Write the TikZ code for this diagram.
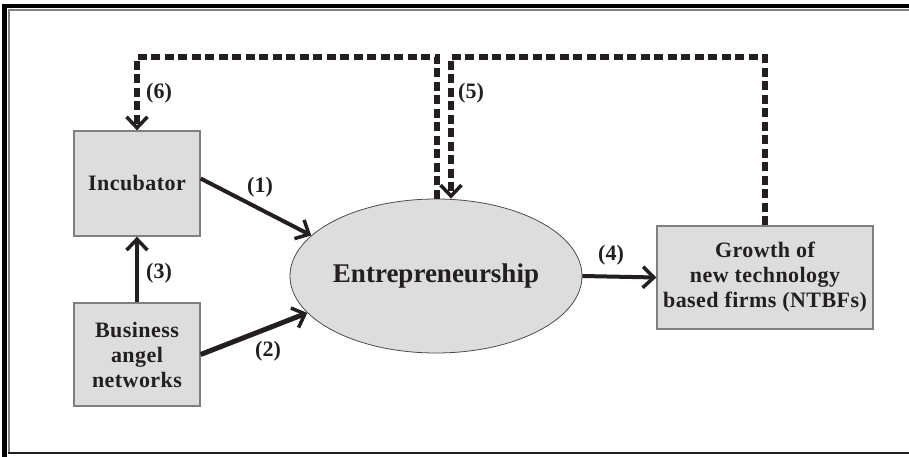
\documentclass[tikz,border=0pt]{standalone}
\usepackage{fontspec}
\setmainfont{Liberation Serif}
\newfontfamily\trackfont{Liberation Serif}[LetterSpace=2]
\usetikzlibrary{shapes.geometric,arrows.meta}
\definecolor{boxgray}{HTML}{DDDDDD}
\definecolor{edgegray}{HTML}{7F7F7F}
\definecolor{ink}{HTML}{231F20}
\begin{document}
\begin{tikzpicture}[x=1pt,y=-1pt,
    box/.style={draw=edgegray, line width=1.3pt, fill=boxgray, text=ink,
      align=center, inner sep=0pt,
      font=\trackfont\bfseries\fontsize{22}{25}\selectfont},
    num/.style={text=ink, inner sep=0pt, font=\bfseries\fontsize{22}{24}\selectfont},
    arr/.style={draw=ink, line width=4pt,
      -{Straight Barb[length=11pt,width=21pt,line width=3.5pt]}},
    fback/.style={arr, line width=5.5pt, dash pattern=on 9pt off 4.5pt}]
      \useasboundingbox (0,0) rectangle (909,457);
      % frame
      \draw[line width=4.5pt] (909,6) -- (4.5,6) -- (4.5,457);
      \draw[edgegray, line width=1.5pt] (909,10) -- (9,10) -- (9,453);
      \draw[ink, line width=1.5pt] (8.3,453) -- (909,453);
      % boxes
      \node[box, minimum width=126pt, minimum height=105pt]
            (incub) at (137,183.5) {Incubator};
      \node[box, minimum width=126pt, minimum height=103pt]
            (angel) at (137,354.5) {Business\\angel\\networks};
      \node[box, minimum width=216pt, minimum height=103pt]
            (growth) at (765,277.5) {Growth of\\new technology\\based firms (NTBFs)};
      \node[ellipse, draw=ink!80, line width=0.8pt, fill=boxgray, text=ink,
            minimum width=292pt, minimum height=154pt, inner sep=0pt,
            font=\bfseries\fontsize{27}{30}\selectfont]
            (entre) at (436,276) {Entrepreneurship};
      % feedback corners
      \coordinate (fb5) at (451,57);
      \coordinate (fb6) at (437,57);
      % links
      \draw[arr] ([yshift=5pt]incub.east) -- (entre.162);
      \draw[arr, line width=5pt] (angel.east) -- (entre.196);
      \draw[arr, line width=3.5pt] (angel.north) -- (incub.south);
      \draw[arr] (entre.east) -- (growth.west);
      \draw[fback] (growth.north) |- (fb5) -- (fb5 |- entre.north);
      \draw[fback] (fb6 |- entre.north) -- (fb6) -| (incub.north);
      % labels
      \node[num] (n1) at (260,187) {(1)};
      \node[num] (n2) at (268,351) {(2)};
      \node[num] (n3) at (159,273) {(3)};
      \node[num] (n4) at (611,255) {(4)};
      \node[num] (n5) at (471,93) {(5)};
      \node[num] (n6) at (159,93) {(6)};
\end{tikzpicture}
\end{document}
